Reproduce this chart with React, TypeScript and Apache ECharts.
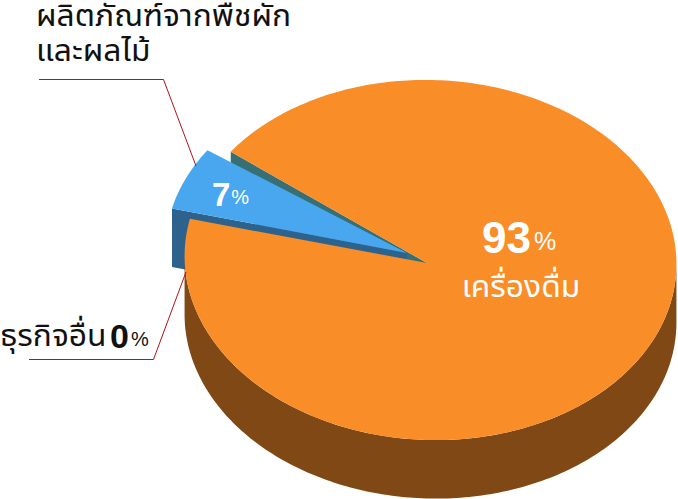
import React, { useEffect, useRef } from "react";
import * as echarts from "echarts";

const categories = ["ผลิตภัณฑ์จากพืชผัก", "เครื่องดื่ม"];
const categoryLines = ["ผลิตภัณฑ์จากพืชผัก", "และผลไม้"];
const shares = [6.6, 93.4];
const otherName = "ธุรกิจอื่น";
const otherShare = 0;

const FONT = "'Noto Sans Thai','Noto Sans','Liberation Sans',sans-serif";
const NUM = "'Liberation Sans',sans-serif";

const cx = 430.5, cy = 260, rx = 246, ry = 180, depth = 58.5;
const tilt = 2;
const apex = [427, 263];
const gapMid = 202.35;
const explode = [-23.5, -7];
const inset = 1.4;
const plantScale = 0.982;
const PHI = (tilt * Math.PI) / 180;

const pt = (c: number[], deg: number, s = 1) => {
  const a = (deg * Math.PI) / 180;
  const x = rx * s * Math.cos(a), y = ry * s * Math.sin(a);
  return [c[0] + x * Math.cos(PHI) - y * Math.sin(PHI), c[1] + x * Math.sin(PHI) + y * Math.cos(PHI)];
};
const f = (p: number[]) => `${p[0].toFixed(2)} ${p[1].toFixed(2)}`;
const down = (p: number[]) => [p[0], p[1] + depth];
// Ellipse arc as fine line segments, so the rotated ellipse is exact.
const arcPts = (c: number[], from: number, to: number, s = 1) => {
  const n = Math.max(2, Math.ceil(Math.abs(to - from)));
  const out: number[][] = [];
  for (let i = 0; i <= n; i++) out.push(pt(c, from + ((to - from) * i) / n, s));
  return out;
};
const poly = (pts: number[][]) => "M" + pts.map(f).join(" L") + " Z";

function renderItem(params: any, api: any) {
  const share = api.value(1) as number;
  const span = (share / 100) * 360;
  const plantSpan = (shares[0] / 100) * 360;
  if (params.dataIndex === 0) {
    const c = [cx + explode[0], cy + explode[1]];
    const a0 = gapMid - span / 2 + inset;
    const a1 = gapMid + span / 2 - inset;
    const p0 = pt(c, a0, plantScale);
    return {
      type: "group",
      children: [
        {
          type: "path", z2: 2,
          shape: { pathData: poly([c, p0, down(p0), down(c)]) },
          style: { fill: "#2D628D" },
        },
        {
          type: "path", z2: 3,
          shape: { pathData: poly([c, ...arcPts(c, a0, a1, plantScale)]) },
          style: { fill: "#49A7EF" },
        },
      ],
    };
  }
  const c = [cx, cy];
  const a0 = gapMid + plantSpan / 2;
  const a1 = a0 + span;
  const p0 = pt(c, a0);
  const edge = (Math.atan(-(ry / rx) * Math.tan(PHI)) * 180) / Math.PI;
  const front = arcPts(c, edge, edge + 180);
  return {
    type: "group",
    children: [
      {
        type: "path", z2: 1,
        shape: { pathData: poly([apex, p0, down(p0), down(apex)]) },
        style: { fill: "#376F74" },
      },
      {
        type: "path", z2: 4,
        shape: { pathData: poly([...front, ...front.map(down).reverse()]) },
        style: { fill: "#804814" },
      },
      {
        type: "path", z2: 5,
        shape: { pathData: poly([apex, ...arcPts(c, a0, a1)]) },
        style: { fill: "#F98D27" },
      },
    ],
  };
}

const pct = (v: number) => Math.round(v);

const thai = (text: string, x: number, y: number, fill: string, align = "left") => ({
  type: "text", z: 11, x, y, scaleX: 1.06,
  style: { text, font: `30px ${FONT}`, lineHeight: 30, fill, textAlign: align, textVerticalAlign: "middle" },
});

const num = (v: number, x: number, y: number, fill: string, size: number, pSize: number, pPad: number, gap: number) => ({
  type: "text", z: 11, x, y,
  style: {
    text: `{v|${pct(v)}}{p|%}`,
    textVerticalAlign: "middle",
    rich: {
      v: { font: `bold ${size}px ${NUM}`, fill },
      p: { font: `${pSize}px ${NUM}`, fill, padding: [pPad, 0, 0, gap] },
    },
  },
});

export default function App() {
  const ref = useRef<HTMLDivElement>(null);
  useEffect(() => {
    const chart = echarts.init(ref.current!, undefined, { renderer: "svg" });
    chart.setOption({
      animation: false,
      series: [
        {
          type: "custom",
          coordinateSystem: "none",
          renderItem,
          data: categories.map((n, i) => ({ name: n, value: [i, shares[i]] })),
          silent: true,
        },
      ],
      graphic: [
        { type: "polyline", z: 10, shape: { points: [[39, 79.5], [163.5, 79.5], [196, 166]] }, style: { stroke: "#B5121B", lineWidth: 1, fill: "none" } },
        { type: "polyline", z: 10, shape: { points: [[29, 359.5], [153.5, 359.5], [186, 272]] }, style: { stroke: "#B5121B", lineWidth: 1, fill: "none" } },
        thai(categoryLines[0], 36, 17, "#111"),
        thai(categoryLines[1], 36, 52, "#111"),
        thai(otherName, 0, 337, "#111"),
        num(otherShare, 110, 336, "#111", 34, 20, 6, 2),
        num(shares[0], 212, 194, "#fff", 33, 20, 6, 1),
        num(shares[1], 482, 237, "#fff", 44, 25, 8, 3),
        thai(categories[1], 521, 288, "#fff", "center"),
      ],
    });
    return () => chart.dispose();
  }, []);
  return <div ref={ref} style={{ position: "absolute", left: 0, top: 0, width: 678, height: 499 }} />;
}
